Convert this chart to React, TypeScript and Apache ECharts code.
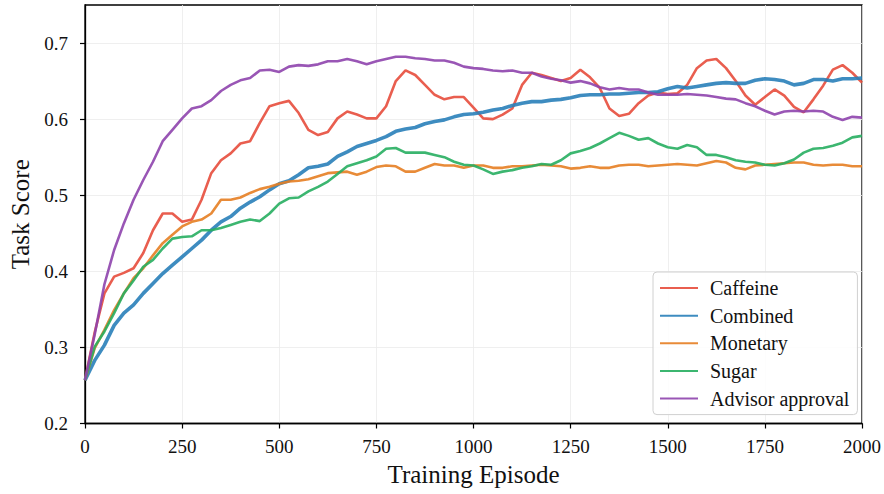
import React, { useEffect, useRef } from "react";
import * as echarts from "echarts";

const EPISODES = [
  0, 25, 50, 75, 100, 125, 150, 175, 200, 225, 250, 275, 300, 325, 350, 375, 400, 425, 450, 475,
  500, 525, 550, 575, 600, 625, 650, 675, 700, 725, 750, 775, 800, 825, 850, 875, 900, 925, 950, 975,
  1000, 1025, 1050, 1075, 1100, 1125, 1150, 1175, 1200, 1225, 1250, 1275, 1300, 1325, 1350, 1375,
  1400, 1425, 1450, 1475, 1500, 1525, 1550, 1575, 1600, 1625, 1650, 1675, 1700, 1725, 1750, 1775,
  1800, 1825, 1850, 1875, 1900, 1925, 1950, 1975, 2000,
];

const CAFFEINE = [
  0.257, 0.32, 0.371, 0.393, 0.398, 0.404, 0.424, 0.454, 0.476, 0.476, 0.465, 0.468, 0.494, 0.529,
  0.546, 0.555, 0.568, 0.571, 0.595, 0.617, 0.621, 0.624, 0.608, 0.586, 0.579, 0.583, 0.601, 0.61,
  0.606, 0.601, 0.601, 0.617, 0.65, 0.664, 0.658, 0.645, 0.632, 0.626, 0.629, 0.629, 0.615, 0.601,
  0.6, 0.606, 0.614, 0.645, 0.661, 0.658, 0.654, 0.65, 0.654, 0.665, 0.655, 0.641, 0.614, 0.604,
  0.607, 0.621, 0.631, 0.635, 0.633, 0.634, 0.645, 0.667, 0.677, 0.679, 0.667, 0.65, 0.631, 0.619,
  0.629, 0.639, 0.631, 0.616, 0.609, 0.626, 0.644, 0.665, 0.671, 0.661, 0.648,
];

const COMBINED = [
  0.257, 0.283, 0.303, 0.329, 0.345, 0.356, 0.371, 0.384, 0.397, 0.408, 0.419, 0.43, 0.441, 0.454,
  0.465, 0.472, 0.483, 0.491, 0.498, 0.507, 0.515, 0.519, 0.527, 0.536, 0.538, 0.541, 0.551, 0.557,
  0.564, 0.568, 0.572, 0.577, 0.584, 0.587, 0.589, 0.594, 0.597, 0.599, 0.603, 0.606, 0.607, 0.609,
  0.612, 0.614, 0.618, 0.621, 0.623, 0.623, 0.625, 0.626, 0.628, 0.631, 0.632, 0.632, 0.633, 0.633,
  0.634, 0.635, 0.635, 0.636, 0.64, 0.643, 0.641, 0.643, 0.645, 0.647, 0.648, 0.647, 0.647, 0.651,
  0.653, 0.652, 0.65, 0.645, 0.647, 0.652, 0.652, 0.65, 0.653, 0.653, 0.654,
];

const MONETARY = [
  0.257, 0.299, 0.323, 0.349, 0.371, 0.391, 0.404, 0.421, 0.437, 0.448, 0.459, 0.465, 0.468, 0.476,
  0.494, 0.494, 0.497, 0.503, 0.508, 0.511, 0.515, 0.518, 0.519, 0.521, 0.525, 0.529, 0.53, 0.531,
  0.527, 0.531, 0.537, 0.539, 0.538, 0.531, 0.531, 0.536, 0.541, 0.539, 0.539, 0.536, 0.539, 0.539,
  0.536, 0.536, 0.538, 0.538, 0.539, 0.54, 0.539, 0.538, 0.535, 0.536, 0.538, 0.536, 0.536, 0.539,
  0.54, 0.54, 0.538, 0.539, 0.54, 0.541, 0.54, 0.539, 0.542, 0.545, 0.543, 0.536, 0.534, 0.539,
  0.54, 0.541, 0.542, 0.543, 0.543, 0.54, 0.539, 0.54, 0.54, 0.538, 0.538,
];

const SUGAR = [
  0.257, 0.301, 0.321, 0.345, 0.371, 0.388, 0.406, 0.415, 0.43, 0.443, 0.445, 0.446, 0.454, 0.454,
  0.457, 0.461, 0.465, 0.468, 0.466, 0.476, 0.489, 0.496, 0.497, 0.505, 0.511, 0.518, 0.528, 0.538,
  0.542, 0.546, 0.551, 0.561, 0.562, 0.556, 0.556, 0.556, 0.553, 0.55, 0.544, 0.54, 0.539, 0.534,
  0.528, 0.531, 0.533, 0.536, 0.538, 0.541, 0.54, 0.546, 0.555, 0.558, 0.562, 0.568, 0.575, 0.582,
  0.578, 0.573, 0.575, 0.568, 0.563, 0.561, 0.566, 0.563, 0.553, 0.553, 0.55, 0.546, 0.544, 0.543,
  0.54, 0.539, 0.542, 0.547, 0.556, 0.561, 0.562, 0.565, 0.569, 0.576, 0.578,
];

const ADVISOR = [
  0.257, 0.317, 0.383, 0.428, 0.463, 0.494, 0.52, 0.544, 0.571, 0.586, 0.601, 0.614, 0.617, 0.625,
  0.637, 0.645, 0.651, 0.654, 0.664, 0.665, 0.662, 0.669, 0.671, 0.67, 0.672, 0.676, 0.676, 0.679,
  0.676, 0.672, 0.676, 0.679, 0.682, 0.682, 0.68, 0.679, 0.677, 0.677, 0.674, 0.669, 0.667, 0.666,
  0.664, 0.663, 0.664, 0.661, 0.661, 0.656, 0.653, 0.651, 0.648, 0.65, 0.647, 0.642, 0.639, 0.641,
  0.639, 0.639, 0.635, 0.632, 0.632, 0.632, 0.633, 0.632, 0.631, 0.629, 0.627, 0.626, 0.621, 0.617,
  0.611, 0.606, 0.61, 0.611, 0.61, 0.611, 0.61, 0.603, 0.599, 0.603, 0.602,
];

const Y_TICKS = [0.2, 0.3, 0.4, 0.5, 0.6, 0.7];

const SERIES_DEF = [
  { name: "Caffeine", values: CAFFEINE, color: "#e74c3c", width: 2.6 },
  { name: "Combined", values: COMBINED, color: "#2980b9", width: 3.6 },
  { name: "Monetary", values: MONETARY, color: "#e67e22", width: 2.6 },
  { name: "Sugar", values: SUGAR, color: "#27ae60", width: 2.6 },
  { name: "Advisor approval", values: ADVISOR, color: "#8e44ad", width: 2.6 },
];

const FONT = "'Liberation Serif', 'DejaVu Serif', serif";

export default function App() {
  const ref = useRef<HTMLDivElement>(null);
  useEffect(() => {
    if (!ref.current) return;
    const chart = echarts.init(ref.current, null, { renderer: "svg" });
    chart.setOption({
      animation: false,
      backgroundColor: "#ffffff",
      textStyle: { fontFamily: FONT },
      grid: {
        left: 83,
        top: 5,
        right: 21,
        bottom: 70.5,
        show: true,
        borderColor: "#000",
        borderWidth: 1.3,
        backgroundColor: "transparent",
      },
      legend: {
        orient: "vertical",
        left: 653,
        top: 272,
        width: 201,
        padding: [6, 8, 6, 6],
        itemWidth: 38,
        itemHeight: 14,
        itemGap: 7.4,
        backgroundColor: "rgba(255,255,255,0.85)",
        borderColor: "#d0d0d0",
        borderWidth: 1,
        borderRadius: 4,
        itemStyle: { opacity: 0, borderWidth: 0 },
        textStyle: {
          fontFamily: FONT,
          fontSize: 20,
          color: "#111",
          lineHeight: 20.2,
          padding: [0, 0, 0, 7],
        },
        data: SERIES_DEF.map((s) => s.name),
      },
      xAxis: {
        type: "value",
        min: 0,
        max: 2000,
        interval: 250,
        name: "Training Episode",
        nameLocation: "middle",
        nameGap: 38,
        nameTextStyle: { fontFamily: FONT, fontSize: 25, color: "#111" },
        axisLine: { show: true, lineStyle: { color: "#000", width: 1.3 } },
        axisTick: { show: true, inside: false, length: 5, lineStyle: { color: "#000", width: 1.2 } },
        axisLabel: {
          fontFamily: FONT,
          fontSize: 19,
          color: "#111",
          margin: 13,
          formatter: (v: number) => String(v),
        },
        splitLine: { show: true, lineStyle: { color: "#ebebeb", width: 0.8 } },
      },
      yAxis: {
        type: "value",
        min: 0.2,
        max: 0.75,
        interval: 0.1,
        name: "Task Score",
        nameLocation: "middle",
        nameGap: 52,
        nameTextStyle: { fontFamily: FONT, fontSize: 25, color: "#111" },
        axisLine: { show: true, lineStyle: { color: "#000", width: 1.3 } },
        axisTick: {
          show: true,
          inside: false,
          length: 5,
          customValues: Y_TICKS,
          lineStyle: { color: "#000", width: 1.2 },
        },
        axisLabel: {
          fontFamily: FONT,
          fontSize: 19,
          color: "#111",
          margin: 17,
          showMaxLabel: false,
          formatter: (v: number) => (Math.abs(v - 0.75) < 1e-6 ? "" : v.toFixed(1)),
        },
        splitLine: { show: true, lineStyle: { color: "#ebebeb", width: 0.8 } },
      },
      series: SERIES_DEF.map((s) => ({
        name: s.name,
        type: "line",
        data: EPISODES.map((e, i) => [e, s.values[i]]),
        showSymbol: false,
        symbol: "none",
        smooth: false,
        color: s.color,
        lineStyle: { color: s.color, width: s.width, opacity: 0.9 },
        itemStyle: { color: s.color },
      })),
    });
    return () => chart.dispose();
  }, []);
  return (
    <div
      ref={ref}
      style={{ position: "fixed", left: 0, top: 0, width: 884, height: 494 }}
    />
  );
}
